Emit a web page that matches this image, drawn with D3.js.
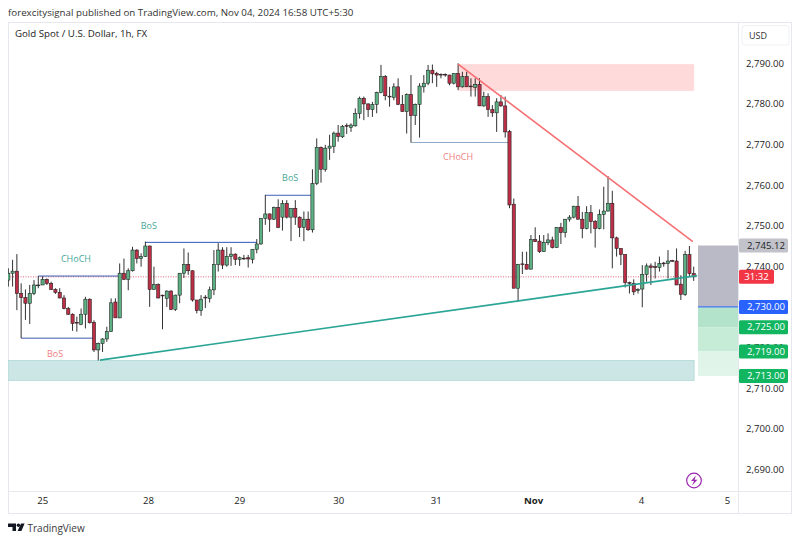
<!DOCTYPE html>
<html>
<head>
<meta charset="utf-8">
<script src="https://d3js.org/d3.v7.min.js"></script>
<style>
  html, body { margin: 0; padding: 0; background: #fff; }
  svg { display: block; }
  text { font-family: "Open Sans", "Noto Sans", sans-serif; }
</style>
</head>
<body>
<div id="chart"></div>
<script>
// hourly candles
var open = [
  2736.6,2738.3,2738.8,2733.3,2732.3,2730.9,2733.3,2735.3,2735.4,2736.8,
  2735.8,2734.3,2733.6,2732.2,2729.6,2728.2,2726.2,2725.7,2728.2,2731.9,
  2726.2,2719.4,2721.0,2722.1,2723.9,2731.2,2727.3,2738.3,2736.8,2738.9,
  2744.0,2741.9,2742.4,2745.0,2734.3,2735.5,2732.9,2732.1,2733.9,2729.4,
  2732.9,2738.3,2740.5,2738.9,2731.7,2729.1,2732.4,2732.1,2734.2,2740.5,
  2744.0,2740.3,2742.4,2743.0,2741.7,2742.0,2742.1,2741.7,2744.2,2745.5,
  2751.8,2752.9,2751.6,2754.5,2752.1,2755.5,2752.1,2754.3,2752.1,2749.6,
  2751.6,2749.0,2760.4,2769.3,2763.9,2769.1,2769.5,2772.8,2771.9,2774.7,
  2774.2,2774.6,2777.6,2781.4,2780.0,2778.6,2779.9,2782.8,2786.7,2781.9,
  2781.6,2784.2,2779.9,2778.1,2782.3,2777.1,2779.9,2784.2,2785.1,2788.3,
  2787.5,2787.3,2787.3,2787.1,2785.1,2787.5,2784.2,2786.7,2784.4,2784.1,
  2784.8,2779.5,2781.8,2778.6,2777.8,2780.5,2779.5,2773.2,2755.3,2734.6,
  2740.6,2740.5,2739.3,2746.6,2746.2,2743.6,2745.8,2746.5,2744.6,2749.6,
  2748.3,2751.6,2752.1,2754.8,2751.6,2749.3,2753.2,2751.0,2749.3,2752.8,
  2753.6,2755.5,2747.0,2744.4,2742.9,2736.0,2735.8,2734.0,2734.4,2738.0,
  2740.1,2739.9,2739.7,2740.8,2740.7,2741.4,2741.3,2735.6,2733.1,2742.9,
  2738.2]
var close = [
  2738.3,2738.8,2733.3,2732.3,2730.9,2733.3,2735.4,2735.4,2736.8,2735.8,
  2734.3,2733.6,2732.2,2729.6,2728.2,2725.9,2726.0,2728.2,2731.9,2726.1,
  2719.4,2721.0,2722.1,2723.9,2731.0,2727.3,2738.3,2736.8,2738.9,2744.0,
  2741.9,2742.4,2745.0,2734.3,2735.5,2732.2,2732.8,2733.9,2729.4,2732.9,
  2738.3,2740.5,2738.9,2731.7,2729.1,2731.9,2732.2,2734.2,2740.5,2744.0,
  2740.3,2742.4,2743.0,2741.7,2742.1,2741.9,2741.8,2744.2,2745.5,2751.8,
  2752.9,2751.6,2754.5,2749.6,2755.5,2752.1,2754.3,2752.1,2749.6,2751.6,
  2749.0,2760.4,2769.3,2763.9,2769.1,2769.6,2772.8,2772.0,2774.5,2774.6,
  2774.8,2777.6,2781.4,2780.0,2778.6,2779.9,2782.8,2786.7,2782.0,2781.7,
  2784.2,2779.9,2778.1,2782.3,2777.1,2779.9,2784.4,2785.1,2788.3,2787.4,
  2787.1,2787.2,2787.2,2785.1,2787.5,2784.2,2786.7,2784.2,2784.3,2784.8,
  2779.5,2781.8,2778.6,2777.8,2780.5,2779.5,2773.1,2755.1,2734.6,2740.5,
  2740.5,2739.3,2746.6,2746.1,2743.6,2745.9,2746.5,2744.6,2749.6,2748.3,
  2751.6,2752.1,2754.8,2751.6,2749.3,2753.2,2751.0,2749.3,2752.8,2753.6,
  2755.5,2747.0,2744.4,2742.9,2736.0,2735.8,2733.7,2734.3,2738.0,2740.1,
  2739.7,2739.8,2740.7,2740.7,2741.3,2741.3,2735.4,2733.1,2742.9,2738.2,
  2737.4]
var high = [
  2739.5,2741.6,2743.0,2735.8,2734.3,2735.4,2736.6,2737.6,2737.5,2737.0,
  2736.2,2734.6,2734.6,2732.9,2730.0,2728.4,2727.6,2729.6,2732.5,2732.1,
  2726.7,2721.2,2722.3,2725.1,2732.1,2732.1,2740.7,2741.9,2739.5,2744.8,
  2744.2,2743.2,2746.1,2745.1,2739.9,2735.8,2733.0,2734.1,2734.1,2733.0,
  2738.3,2744.4,2743.4,2739.0,2731.7,2732.9,2732.9,2735.0,2744.0,2745.7,
  2744.7,2744.7,2744.7,2743.2,2742.4,2742.8,2742.8,2744.2,2746.7,2751.8,
  2757.6,2753.0,2754.7,2756.5,2756.3,2756.3,2754.3,2756.3,2752.3,2753.5,
  2753.5,2763.9,2771.5,2769.5,2769.9,2772.4,2773.2,2774.8,2774.8,2775.2,
  2775.2,2778.9,2781.8,2781.8,2780.1,2780.5,2783.0,2789.6,2787.1,2784.2,
  2785.1,2786.3,2782.2,2782.6,2787.1,2780.1,2785.1,2787.1,2789.6,2789.7,
  2787.9,2787.5,2787.5,2787.2,2787.5,2790.0,2787.9,2787.9,2786.3,2786.3,
  2786.3,2783.0,2782.6,2779.7,2781.4,2782.2,2781.8,2773.6,2756.7,2740.6,
  2743.6,2743.6,2747.7,2749.6,2747.7,2747.7,2748.1,2747.3,2749.6,2750.7,
  2751.6,2752.6,2754.9,2757.3,2753.4,2754.8,2755.1,2751.4,2754.0,2759.6,
  2762.2,2758.6,2747.3,2744.4,2742.9,2736.2,2736.8,2734.6,2740.3,2740.7,
  2740.7,2741.1,2742.4,2741.1,2744.0,2741.6,2744.4,2737.8,2743.8,2745.0,
  2739.9]
var low = [
  2735.0,2735.0,2729.2,2722.3,2726.8,2725.8,2732.9,2734.6,2735.4,2735.4,
  2734.2,2733.2,2732.1,2729.4,2728.0,2724.1,2723.9,2725.5,2724.7,2725.9,
  2718.9,2716.8,2718.9,2721.4,2723.9,2727.3,2727.2,2736.6,2734.1,2738.7,
  2740.7,2739.9,2742.3,2730.0,2734.2,2732.1,2724.5,2730.0,2729.2,2729.0,
  2730.9,2737.1,2737.9,2731.3,2728.4,2727.8,2729.7,2731.1,2732.9,2738.7,
  2739.3,2739.9,2740.1,2740.3,2740.1,2741.6,2739.7,2740.7,2743.2,2745.3,
  2750.2,2748.5,2751.4,2749.4,2748.8,2751.8,2746.2,2750.2,2747.2,2746.2,
  2748.7,2748.3,2760.0,2760.6,2763.3,2766.2,2767.9,2770.7,2771.6,2772.6,
  2773.1,2774.4,2776.4,2776.0,2776.8,2776.8,2777.7,2782.6,2780.9,2779.3,
  2780.9,2779.7,2778.1,2772.7,2770.5,2774.8,2771.7,2782.8,2784.6,2785.1,
  2784.2,2786.3,2786.7,2784.6,2784.8,2783.4,2784.0,2784.2,2781.8,2781.8,
  2779.5,2779.3,2776.8,2776.8,2773.1,2779.3,2771.7,2754.3,2734.6,2731.3,
  2738.1,2739.2,2739.2,2746.0,2743.3,2743.6,2745.2,2744.4,2744.6,2745.5,
  2747.1,2751.0,2751.8,2751.5,2746.9,2749.1,2748.1,2744.6,2749.1,2749.1,
  2753.5,2739.5,2742.4,2740.3,2734.8,2733.3,2732.9,2733.3,2729.9,2736.2,
  2735.4,2737.0,2738.7,2739.9,2737.0,2741.1,2735.4,2731.7,2732.7,2737.4,
  2736.4]

var priceTicks = [2790, 2780, 2770, 2760, 2750, 2740, 2730, 2720, 2710, 2700, 2690]
var dayLabels = ["25", "28", "29", "30", "31", "Nov", "4", "5"]
var dayIndex = [7.9, 32.6, 53.9, 77, 99.8, 122.5, 147.7, 167.8]

var lastPrice = 2737.4
var timer = "31:32"

// position tool levels
var entryPrice = 2730
var stopPrice = 2745.12
var targets = [2725, 2719, 2713]

// structure lines: start bar, end bar, price
var structStart = [7, 3, 32, 60, 94]
var structEnd = [26, 20, 58, 71, 117]
var structPrice = [2737.6, 2722.3, 2745.9, 2757.5, 2770.5]
var structColor = ["#3d59ad", "#3d59ad", "#2f55b8", "#3d62b8", "#8ea8c8"]

var labelText = ["CHoCH", "BoS", "BoS", "BoS", "CHoCH"]
var labelIndex = [15.8, 10.9, 32.8, 65.8, 105]
var labelPrice = [2741.6, 2718.2, 2749.9, 2761.5, 2766.7]
var labelColor = ["#45a797", "#f0807f", "#45a797", "#45a797", "#f0807f"]

var width = 800
var height = 542
var plot = { left: 8, right: 738, top: 22, bottom: 491, outerRight: 791, outerBottom: 513 }

var svg = d3.select("#chart")
  .append("svg")
  .attr("width", width)
  .attr("height", height)

var x = d3.scaleLinear().domain([0, 160]).range([8.3, 693.7])
var y = d3.scaleLinear().domain([2690, 2790]).range([469.3, 63.3])

svg.append("defs").append("clipPath")
  .attr("id", "plot-clip")
  .append("rect")
  .attr("x", plot.left)
  .attr("y", plot.top)
  .attr("width", plot.right - plot.left)
  .attr("height", plot.bottom - plot.top)

// header
svg.append("text")
  .attr("x", 8)
  .attr("y", 16)
  .style("font-size", "9.75px")
  .style("fill", "#333")
  .text("forexcitysignal published on TradingView.com, Nov 04, 2024 16:58 UTC+5:30")

// frame
svg.append("rect")
  .attr("x", plot.left + 0.5)
  .attr("y", plot.top + 0.5)
  .attr("width", plot.outerRight - plot.left)
  .attr("height", plot.outerBottom - plot.top)
  .style("fill", "none")
  .style("stroke", "#e6e8ee")

svg.append("line")
  .attr("x1", plot.right + 0.5).attr("x2", plot.right + 0.5)
  .attr("y1", plot.top).attr("y2", plot.outerBottom)
  .style("stroke", "#e6e8ee")

svg.append("line")
  .attr("x1", plot.left).attr("x2", plot.outerRight)
  .attr("y1", plot.bottom + 0.5).attr("y2", plot.bottom + 0.5)
  .style("stroke", "#e6e8ee")

svg.append("text")
  .attr("x", 15)
  .attr("y", 37)
  .style("font-size", "9.7px")
  .style("fill", "#222")
  .text("Gold Spot / U.S. Dollar, 1h, FX")

var chart = svg.append("g").attr("clip-path", "url(#plot-clip)")

// zones
chart.append("rect")
  .attr("x", x(105))
  .attr("y", y(2789.8))
  .attr("width", x(160.1) - x(105))
  .attr("height", y(2783.2) - y(2789.8))
  .style("fill", "#ffdada")

chart.append("rect")
  .attr("x", plot.left)
  .attr("y", y(2716.8))
  .attr("width", x(160.1) - plot.left)
  .attr("height", y(2711.9) - y(2716.8))
  .style("fill", "#cbe6e4")
  .style("stroke", "#a9d6d2")
  .style("stroke-width", 0.7)

// current price line
chart.append("line")
  .attr("x1", plot.left).attr("x2", plot.right)
  .attr("y1", y(lastPrice)).attr("y2", y(lastPrice))
  .style("stroke", "#e5506a")
  .style("stroke-width", 0.9)
  .style("stroke-dasharray", "1,1.5")

// structure lines
chart.selectAll(".struct")
  .data(structPrice)
  .enter()
  .append("line")
  .attr("class", "struct")
  .attr("x1", (d, i) => x(structStart[i]))
  .attr("x2", (d, i) => x(structEnd[i]))
  .attr("y1", d => y(d))
  .attr("y2", d => y(d))
  .style("stroke", (d, i) => structColor[i])
  .style("stroke-width", 1)

// candles
var bars = d3.range(open.length)

chart.selectAll(".wick")
  .data(bars)
  .enter()
  .append("line")
  .attr("class", "wick")
  .attr("x1", d => x(d))
  .attr("x2", d => x(d))
  .attr("y1", d => y(high[d]))
  .attr("y2", d => y(low[d]))
  .style("stroke", "#1b1b1b")
  .style("stroke-width", 0.9)

chart.selectAll(".body")
  .data(bars)
  .enter()
  .append("rect")
  .attr("class", "body")
  .attr("x", d => x(d) - 1.6)
  .attr("width", 3.2)
  .attr("y", d => y(Math.max(open[d], close[d])))
  .attr("height", d => Math.max(0.8, Math.abs(y(open[d]) - y(close[d]))))
  .style("fill", d => close[d] >= open[d] ? "#5cb083" : "#bd2f47")
  .style("stroke", "#1b1b1b")
  .style("stroke-width", 0.55)

// trend lines
chart.append("line")
  .attr("x1", x(21.4)).attr("y1", y(2716.9))
  .attr("x2", x(160.8)).attr("y2", y(2737.7))
  .style("stroke", "#2a a596".replace(" ", ""))
  .style("stroke-width", 1.6)

chart.append("line")
  .attr("x1", x(105)).attr("y1", y(2789.8))
  .attr("x2", x(159.8)).attr("y2", y(2746.1))
  .style("stroke", "#f56f73")
  .style("stroke-width", 1.6)

// CHoCH / BoS labels
chart.selectAll(".struct-label")
  .data(labelText)
  .enter()
  .append("text")
  .attr("class", "struct-label")
  .attr("x", (d, i) => x(labelIndex[i]))
  .attr("y", (d, i) => y(labelPrice[i]))
  .attr("text-anchor", "middle")
  .attr("dominant-baseline", "middle")
  .style("font-size", "9px")
  .style("fill", (d, i) => labelColor[i])
  .text(d => d)

// position tool
var toolLeft = x(161)
var toolRight = plot.right
var levels = [entryPrice].concat(targets)
var targetFill = ["#b3e3ca", "#c6ecd8", "#e0f4ea"]

svg.append("rect")
  .attr("x", toolLeft)
  .attr("y", y(stopPrice))
  .attr("width", toolRight - toolLeft)
  .attr("height", y(entryPrice) - y(stopPrice))
  .style("fill", "#b9bac5")

svg.selectAll(".target")
  .data(targets)
  .enter()
  .append("rect")
  .attr("class", "target")
  .attr("x", toolLeft)
  .attr("y", (d, i) => y(levels[i]))
  .attr("width", toolRight - toolLeft)
  .attr("height", (d, i) => y(d) - y(levels[i]))
  .style("fill", (d, i) => targetFill[i])

svg.append("line")
  .attr("x1", toolLeft).attr("x2", toolRight)
  .attr("y1", y(entryPrice)).attr("y2", y(entryPrice))
  .style("stroke", "#2962ff")
  .style("stroke-width", 1)

// axes
var yAxis = d3.axisRight(y)
  .tickValues(priceTicks)
  .tickFormat(d3.format(",.2f"))
  .tickSize(0)
  .tickPadding(8)

var gy = svg.append("g")
  .attr("transform", `translate(${plot.right},0)`)
  .call(yAxis)
gy.select(".domain").remove()
gy.selectAll("text")
  .style("font-size", "9.6px")
  .style("font-family", '"Open Sans", sans-serif')
  .style("fill", "#222")

var xAxis = d3.axisBottom(x)
  .tickValues(dayIndex)
  .tickFormat((d, i) => dayLabels[i])
  .tickSize(0)
  .tickPadding(6)

var gx = svg.append("g")
  .attr("transform", `translate(0,${plot.bottom})`)
  .call(xAxis)
gx.select(".domain").remove()
gx.selectAll("text")
  .style("font-size", "9.6px")
  .style("font-family", '"Open Sans", sans-serif')
  .style("font-weight", d => d === 122.5 ? "700" : "400")
  .style("fill", "#222")

// USD button
svg.append("rect")
  .attr("x", 742).attr("y", 25.5)
  .attr("width", 47).attr("height", 19.5)
  .attr("rx", 3)
  .style("fill", "#fff")
  .style("stroke", "#eef0f4")

svg.append("text")
  .attr("x", 749).attr("y", 39)
  .style("font-size", "9px")
  .style("fill", "#333")
  .text("USD")

// price badges
function badge(price, w, fill, color, label) {
  var g = svg.append("g").attr("transform", `translate(739,${y(price)})`)
  g.append("rect")
    .attr("x", 0).attr("y", -7)
    .attr("width", w).attr("height", 14)
    .attr("rx", 1.5)
    .style("fill", fill)
  g.append("text")
    .attr("x", w === 49 ? 8 : w / 2)
    .attr("y", 0.5)
    .attr("dominant-baseline", "middle")
    .attr("text-anchor", w === 49 ? "start" : "middle")
    .style("font-size", "9.6px")
    .style("fill", color)
    .text(label)
}
var fmt = d3.format(",.2f")
badge(stopPrice, 49, "#c1c2ca", "#222", fmt(stopPrice))
badge(lastPrice, 35, "#f23645", "#fff", timer)
badge(entryPrice, 49, "#2962ff", "#fff", fmt(entryPrice))
targets.forEach(function(t) {
  badge(t, 49, "#12b560", "#fff", fmt(t))
})

// flash icon
svg.append("circle")
  .attr("cx", 694).attr("cy", 480.5).attr("r", 7.3)
  .style("fill", "#fff")
  .style("stroke", "#9c27b0")
  .style("stroke-width", 1.2)
svg.append("path")
  .attr("d", "M696 475.5 L691 481 L694 481 L692 485.5 L697.5 479.7 L694.5 479.7 Z")
  .style("fill", "#9c27b0")

// logo
svg.append("path")
  .attr("d", "M8 523.5 H16 V531 H12.5 V527 H8 Z M21 523.5 H24.6 L21.4 531 H17.6 Z")
  .style("fill", "#131722")
svg.append("circle")
  .attr("cx", 18.4).attr("cy", 525.3).attr("r", 1.7)
  .style("fill", "#131722")

svg.append("text")
  .attr("x", 27.5).attr("y", 531.5)
  .style("font-size", "10px")
  .style("fill", "#3a3a3a")
  .text("TradingView")
</script>
</body>
</html>
